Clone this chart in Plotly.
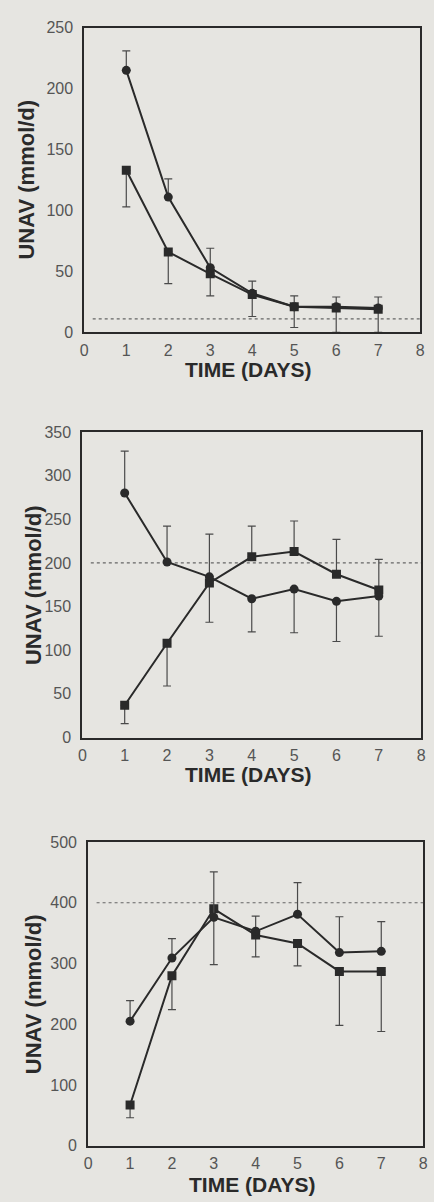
import plotly.graph_objects as go

days = [1, 2, 3, 4, 5, 6, 7]
x_ticks = [0, 1, 2, 3, 4, 5, 6, 7, 8]

# Panel 1
p1_circle = [215, 111, 53, 32, 21, 21, 20]
p1_circle_err_up = [16, 15, 16, 10, 9, 8, 9]
p1_square = [133, 66, 48, 31, 21, 20, 19]
p1_square_err_down = [30, 26, 18, 18, 17, 20, 19]
p1_ref = 11
p1_yticks = [0, 50, 100, 150, 200, 250]

# Panel 2
p2_circle = [280, 201, 184, 159, 170, 156, 162]
p2_circle_err_up = [48, 41, 49, 0, 0, 0, 0]
p2_circle_err_down = [0, 0, 0, 38, 50, 46, 46]
p2_square = [37, 108, 177, 207, 213, 187, 169]
p2_square_err_up = [0, 0, 0, 35, 35, 40, 35]
p2_square_err_down = [21, 49, 45, 0, 0, 0, 0]
p2_ref = 200
p2_yticks = [0, 50, 100, 150, 200, 250, 300, 350]

# Panel 3
p3_circle = [205, 309, 376, 353, 381, 318, 320]
p3_circle_err_up = [34, 32, 75, 25, 52, 59, 49]
p3_square = [67, 280, 390, 347, 333, 287, 287]
p3_square_err_down = [21, 56, 92, 36, 37, 89, 99]
p3_ref = 400
p3_yticks = [0, 100, 200, 300, 400, 500]

BG = "#e6e5e1"
INK = "#2a2a2a"
ERR = "#4a4a4a"
TICK = "#555555"
FONT = "Liberation Sans, Arial, Helvetica, sans-serif"

fig = go.Figure()


def add_series(xref, yref, y, symbol, up=None, down=None):
    up = up if up is not None else [0] * len(y)
    down = down if down is not None else [0] * len(y)
    fig.add_trace(go.Scatter(
        x=days, y=y, xaxis=xref, yaxis=yref, mode="lines+markers",
        line=dict(color=INK, width=2),
        marker=dict(symbol=symbol, size=9, color=INK),
        error_y=dict(type="data", symmetric=False, array=up, arrayminus=down,
                     color=ERR, thickness=1.2, width=4),
        showlegend=False, hoverinfo="skip",
    ))


def add_ref(xref, yref, val):
    fig.add_trace(go.Scatter(
        x=[0.2, 8], y=[val, val], xaxis=xref, yaxis=yref, mode="lines",
        line=dict(color="#666666", width=1.2, dash="dot"),
        showlegend=False, hoverinfo="skip",
    ))


add_ref("x", "y", p1_ref)
add_series("x", "y", p1_square, "square", down=p1_square_err_down)
add_series("x", "y", p1_circle, "circle", up=p1_circle_err_up)

add_ref("x2", "y2", p2_ref)
add_series("x2", "y2", p2_square, "square", up=p2_square_err_up, down=p2_square_err_down)
add_series("x2", "y2", p2_circle, "circle", up=p2_circle_err_up, down=p2_circle_err_down)

add_ref("x3", "y3", p3_ref)
add_series("x3", "y3", p3_square, "square", down=p3_square_err_down)
add_series("x3", "y3", p3_circle, "circle", up=p3_circle_err_up)

W, H = 434, 1202

panels = [
    # (x0, x1, ytop, ybottom, title offset) in pixels
    (82, 425, 20, 329, 38, [0, 250], p1_yticks),
    (80, 426, 430, 740, 38, [0, 350], p2_yticks),
    (86, 428, 846, 1154, 39, [0, 500], p3_yticks),
]

axis_common = dict(
    showline=True, linecolor=INK, linewidth=2, mirror=True,
    showgrid=False, zeroline=False, ticks="",
    tickfont=dict(family=FONT, size=16, color=TICK),
    fixedrange=True,
)

layout = dict(
    width=W, height=H, margin=dict(l=0, r=0, t=0, b=0),
    paper_bgcolor=BG, plot_bgcolor=BG, showlegend=False,
    font=dict(family=FONT),
)

annotations = []
for i, (x0, x1, yt, yb, toff, yr, yt_vals) in enumerate(panels):
    sfx = "" if i == 0 else str(i + 1)
    layout["xaxis" + sfx] = dict(
        axis_common, domain=[x0 / W, x1 / W], range=[0, 8],
        tickvals=x_ticks, anchor="y" + sfx, ticklabelstandoff=2,
    )
    layout["yaxis" + sfx] = dict(
        axis_common, domain=[1 - yb / H, 1 - yt / H], range=yr,
        tickvals=yt_vals, anchor="x" + sfx, ticklabelstandoff=6,
    )
    annotations.append(dict(
        text="<b>TIME (DAYS)</b>", xref="paper", yref="paper",
        x=((x0 + x1) / 2 - 4) / W, y=1 - (yb + toff) / H,
        showarrow=False, xanchor="center", yanchor="middle",
        font=dict(family=FONT, size=21, color=INK),
    ))
    annotations.append(dict(
        text="<b>UNAV (mmol/d)</b>", xref="paper", yref="paper",
        x=(22 + 8 * (i > 0)) / W, y=1 - ((yt + yb) / 2) / H, textangle=-90,
        showarrow=False, xanchor="center", yanchor="middle",
        font=dict(family=FONT, size=22, color=INK),
    ))

layout["annotations"] = annotations
fig.update_layout(**layout)
fig.write_html("out.html", config={"displayModeBar": False})

# remove default page margins so the figure fits the window exactly
with open("out.html", encoding="utf-8") as f:
    html = f.read()
html = html.replace(
    "<head>",
    "<head><style>html,body{margin:0;padding:0;overflow:hidden;}</style>",
    1,
)
with open("out.html", "w", encoding="utf-8") as f:
    f.write(html)
